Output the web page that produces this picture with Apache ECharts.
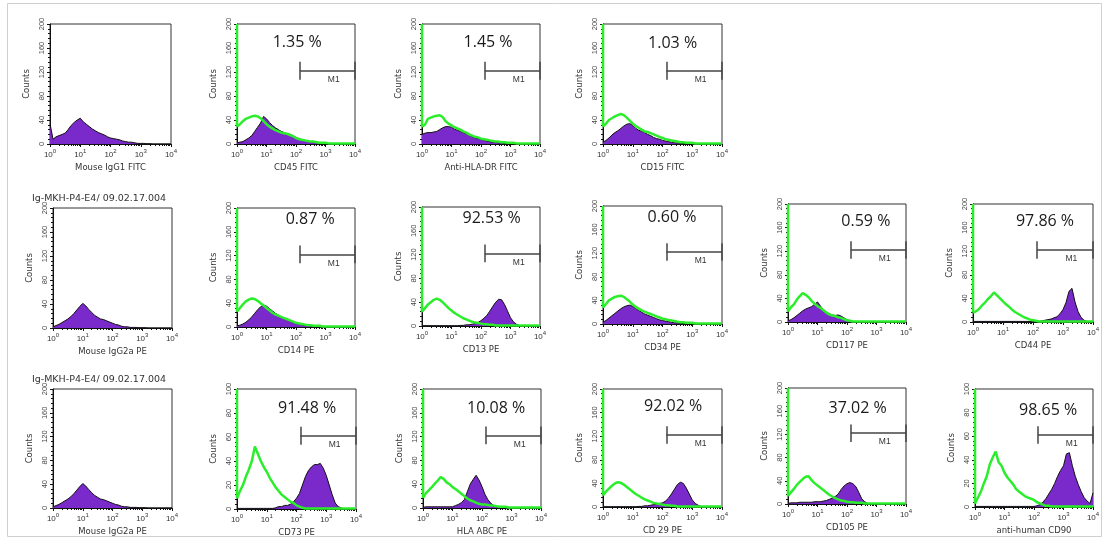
<!DOCTYPE html>
<html><head><meta charset="utf-8">
<script src="https://cdn.jsdelivr.net/npm/echarts@6/dist/echarts.min.js"></script>
<style>html,body{margin:0;padding:0;background:#fff}#c{width:1105px;height:544px}</style>
</head><body><div id="c"></div><script>
// fluorescence channel bin centres (log scale, 10 bins per decade)
const bins = [1, 1.259, 1.585, 1.995, 2.512, 3.162, 3.981, 5.012, 6.31, 7.943,
  10, 12.59, 15.85, 19.95, 25.12, 31.62, 39.81, 50.12, 63.1, 79.43,
  100, 125.9, 158.5, 199.5, 251.2, 316.2, 398.1, 501.2, 631, 794.3,
  1000, 1259, 1585, 1995, 2512, 3162, 3981, 5012, 6310, 7943, 10000];

const axisNames = ['Mouse IgG1 FITC','CD45 FITC','Anti-HLA-DR FITC','CD15 FITC',
  'Mouse IgG2a PE','CD14 PE','CD13 PE','CD34 PE','CD117 PE','CD44 PE',
  'Mouse IgG2a PE','CD73 PE','HLA ABC PE','CD 29 PE','CD105 PE','anti-human CD90'];
const percents = ['', '1.35 %', '1.45 %', '1.03 %', '', '0.87 %', '92.53 %', '0.60 %', '0.59 %', '97.86 %',
  '', '91.48 %', '10.08 %', '92.02 %', '37.02 %', '98.65 %'];
const yMax = [200,200,200,200,200,200,200,200,200,200,200,100,200,200,200,100];
const gateLow = [null,135,135,135,null,135,135,135,135,135,null,135,135,135,135,135];
const gateCount = [null,122,122,122,null,122,122,122,122,122,null,61,122,122,122,61];
const firstBinOffScale = 600; // channel 0 pile-up of the green control, off scale
const header = 'Ig-MKH-P4-E4/ 09.02.17.004';

// purple = stained sample, green = isotype overlay
const isoIgG1 = [34,8,12,14,16,18,24,31,36,40, 43,37,33,29,25,22,19,17,15,12, 10,9,8,7,5,4,3,3,2,1, 1,1,0.5,0.5,0,0,0,0,0,0, 0];
const isoIgG2a = [2,4,6,9,12,15,19,24,30,36, 41,37,31,26,21,18,15,14,12,10, 8,6,5,3,2,2,1,1,1,0.5, 0.5,0.5,0,0,0,0,0,0,0,0, 0];
const cd45P = [2,3,4,7,10,14,21,28,35,46, 42,36,31,27,24,21,19,17,16,14, 11,9,7,6,5,4,3,2,2,1, 1,1,0.5,0.5,0,0,0,0,0,0, 0];
const cd45G = [29,33,38,42,44,46,47,46,43,38, 33,29,26,23,21,19,18,17,15,13, 10,8,7,6,5,4,4,3,2,2, 2,1,1,1,1,1,1,1,1,1, 1];
const hladrP = [16,18,19,19,20,21,24,27,29,29, 28,25,23,21,19,17,15,12,10,9, 8,6,5,4,3,3,2,2,1,1, 1,0.5,0.5,0.5,0,0,0,0,0,0, 0];
const hladrG = [29,32,42,44,46,47,48,45,38,34, 31,28,26,24,21,19,16,14,12,11, 9,8,7,6,5,4,4,3,3,2, 2,2,1,1,1,1,1,1,1,1, 1];
const cd15P = [3,6,10,15,19,22,26,30,33,34, 31,26,23,21,19,16,14,11,9,8, 6,5,4,3,2,2,1,1,0.5,0.5, 0.5,0,0,0,0,0,0,0,0,0, 0];
const cd15G = [29,34,40,43,46,48,50,48,44,39, 34,30,27,24,21,20,18,16,14,12, 10,8,7,6,5,4,3,3,2,2, 2,1,1,1,1,1,1,1,1,1, 1];
const cd14P = [2,3,5,8,12,17,23,29,34,37, 35,31,27,23,20,17,14,12,10,8, 6,5,4,3,2,2,1,1,0.5,0.5, 0,0,0,0,0,0,0,0,0,0, 0];
const cd14G = [26,32,38,43,46,48,47,44,40,36, 32,28,24,21,19,17,15,13,11,9, 7,6,5,4,3,3,2,2,2,1, 1,1,1,1,1,1,1,1,1,1, 1];
const cd13P = [0.5,0.5,0.5,0.5,0.5,0.5,0.5,0.5,0.5,0.5, 0.5,0.5,0.5,1,1,2,2,3,4,6, 9,13,18,25,33,40,45,44,36,25, 14,7,3,1,0.5,0,0,0,0,0, 0];
const cd13G = [24,30,36,40,44,46,44,40,35,30, 26,22,19,16,13,11,9,7,6,5, 4,3,3,2,2,1,1,1,1,1, 1,1,1,1,1,1,1,1,1,1, 1];
const cd34P = [3,6,10,14,18,22,26,29,31,32, 30,26,23,20,17,15,13,11,9,7, 6,5,4,3,2,2,1,1,0.5,0.5, 0,0,0,0,0,0,0,0,0,0, 0];
const cd34G = [28,34,40,43,46,47,48,46,42,38, 33,29,26,23,21,19,17,15,13,11, 9,8,7,6,5,4,3,3,2,2, 2,1,1,1,1,1,1,1,1,1, 1];
const cd117P = [2,4,7,11,15,19,22,24,26,30, 34,27,21,17,14,12,11,12,10,7, 4,2,1,0.5,0.5,0,0,0,0,0, 0,0,0,0,0,0,0,0,0,0, 0];
const cd117G = [18,25,30,38,44,49,46,42,36,31, 27,24,20,16,13,11,10,8,7,5, 3,2,1,1,1,1,1,1,1,1, 1,1,1,1,1,1,1,1,1,1, 1];
const cd44P = [1,1,1,1,1,1,1,1,1,1, 1,1,1,1,1,1,1,1,1,1, 1,1,1,2,3,4,5,7,9,14, 21,33,52,57,34,18,8,3,1,1, 0];
const cd44G = [16,18,22,28,33,39,44,50,45,40, 35,30,26,21,17,14,11,8,6,4, 3,2,1,1,1,1,1,1,1,1, 1,1,1,1,1,1,1,1,1,1, 1];
const cd73P = [0.5,0.5,0.5,0.5,0.5,0.5,0.5,0.5,0.5,0.5, 0.5,0.5,0.5,1,2,2,3,3,4,6, 9,13,20,27,32,35,37,37,38,34, 28,20,12,5,2,1,0,0,0,0, 0];
const cd73G = [9,15,20,27,33,40,52,46,40,35, 31,26,22,18,15,12,10,8,6,5, 3,2,1,0.5,0.5,0.5,0.5,0.5,0.5,0.5, 0.5,0.5,0.5,0.5,0.5,0.5,0.5,0.5,0.5,0.5, 0.5];
const hlaabcP = [1,2,2,2,2,2,2,2,2,2, 2,4,6,9,14,27,40,48,55,47, 36,23,14,8,4,2,1,0.5,0,0, 0,0,0,0,0,0,0,0,0,0, 0];
const hlaabcG = [17,25,30,35,41,46,52,49,43,40, 35,32,28,24,20,16,13,11,9,7, 6,6,5,4,4,3,2,2,2,1, 1,1,1,1,1,1,1,1,1,1, 1];
const cd29P = [0.5,0.5,0.5,0.5,0.5,0.5,0.5,0.5,0.5,0.5, 0.5,0.5,1,1,2,2,3,4,5,6, 7,10,15,22,30,38,42,40,32,22, 12,6,3,1,0,0,0,0,0,0, 0];
const cd29G = [20,26,31,36,40,42,41,38,34,30, 26,22,19,16,13,11,9,7,6,5, 4,3,3,2,2,1,1,1,1,1, 1,1,1,1,1,1,1,1,1,1, 1];
const cd105P = [1,2,2,2,3,3,3,3,3,4, 4,4,5,6,8,10,13,17,25,31, 35,37,35,30,20,9,4,1,0.5,0, 0,0,0,0,0,0,0,0,0,0, 0];
const cd105G = [14,20,26,33,38,43,47,48,41,36, 32,28,24,20,16,13,10,8,6,5, 4,3,3,2,2,2,1,1,1,1, 1,1,1,1,1,1,1,1,1,1, 1];
const cd90P = [0.5,0.5,0.5,0.5,0.5,0.5,0.5,0.5,0.5,0.5, 0.5,0.5,0.5,0.5,0.5,0.5,0.5,0.5,0.5,0.5, 0.5,1,2,4,7,11,15,20,26,31, 35,45,46,35,26,19,13,8,5,3, 12];
const cd90G = [3,8,13,20,26,36,42,47,38,35, 29,25,22,19,15,13,11,9,8,7, 6,4,3,2,1,1,0.5,0.5,0.5,0.5, 0.5,0.5,0.5,0.5,0.5,0.5,0.5,0.5,0.5,0.5, 0.5];

const purple = [isoIgG1, cd45P, hladrP, cd15P, isoIgG2a, cd14P, cd13P, cd34P, cd117P, cd44P,
  isoIgG2a, cd73P, hlaabcP, cd29P, cd105P, cd90P];
const green = [null, cd45G, hladrG, cd15G, null, cd14G, cd13G, cd34G, cd117G, cd44G,
  null, cd73G, hlaabcG, cd29G, cd105G, cd90G];

// ---- layout (pixel boxes of each panel, label positions as fractions of the box) ----
const geo = [
  [50,24,121,120],[237,24,118,120],[422,24,118,120],[603,24,119,120],
  [53,208,119,120],[237,208,118,119],[422,207,118,119],[603,206,119,118],[788,204,118,118],[973,204,120,118],
  [53,389,119,119],[237,389,119,120],[423,389,118,119],[603,389,119,118],[788,388,118,116],[975,389,118,118]];
const pctPos = [null,[0.51,0.156],[0.56,0.15],[0.585,0.158],null,[0.62,0.1],[0.59,0.1],[0.58,0.1],[0.66,0.15],[0.6,0.145],
  null,[0.59,0.16],[0.62,0.16],[0.59,0.15],[0.59,0.18],[0.62,0.18]];
const m1Pos = [0.82, 0.465];

const PURPLE = '#7a2acb', GREEN = '#2bee2b';
const option = {animation:false, backgroundColor:'#fff', grid:[], xAxis:[], yAxis:[], series:[], graphic:[]};

axisNames.forEach((nm, i) => {
  const [l,t,w,h] = geo[i];
  const ym = yMax[i];
  option.grid.push({left:l, top:t, width:w, height:h, show:true, borderColor:'#333', borderWidth:1, backgroundColor:'#fff'});
  option.xAxis.push({
    type:'log', logBase:10, gridIndex:i, min:1, max:10000,
    name:nm, nameLocation:'middle', nameGap:19,
    nameTextStyle:{fontFamily:'DejaVu Sans', fontSize:8.5, color:'#333'},
    axisLine:{show:true, onZero:false, lineStyle:{color:'#111', width:1}},
    axisTick:{show:true, length:3, lineStyle:{color:'#111'}},
    minorTick:{show:true, splitNumber:9, length:2, lineStyle:{color:'#111'}},
    splitLine:{show:false},
    axisLabel:{margin:4, formatter: v => '{b|10}{s|' + Math.round(Math.log10(v)) + '}',
      rich:{b:{fontFamily:'Liberation Sans', fontSize:8, color:'#333', lineHeight:11, verticalAlign:'bottom'},
            s:{fontFamily:'Liberation Sans', fontSize:6, color:'#333', verticalAlign:'top'}}}
  });
  option.yAxis.push({
    type:'value', gridIndex:i, min:0, max:ym, interval:ym/5,
    name:'Counts', nameLocation:'middle', nameGap:19,
    nameTextStyle:{fontFamily:'DejaVu Sans', fontSize:8.5, color:'#333'},
    axisLine:{show:true, lineStyle:{color:'#111', width:1}},
    axisTick:{show:true, length:3, lineStyle:{color:'#111'}},
    minorTick:{show:true, splitNumber:5, length:2, lineStyle:{color:'#111'}},
    splitLine:{show:false},
    axisLabel:{rotate:90, margin:4, fontFamily:'Liberation Sans', fontSize:7.5, color:'#444'}
  });
  const pser = {
    type:'line', xAxisIndex:i, yAxisIndex:i, symbol:'none', smooth:false, clip:true, z:2,
    data: bins.map((b,k) => [b, purple[i][k]]),
    lineStyle:{color:'#111', width:1}, areaStyle:{color:PURPLE, opacity:1}
  };
  if (percents[i]) {
    const [fx, fy] = pctPos[i];
    const marks = [
      {coord:[Math.pow(10, 4*fx), ym*(1-fy)], label:{formatter:percents[i], fontFamily:'Open Sans', fontSize:16, color:'#1a1a1a'}},
      {coord:[Math.pow(10, 4*m1Pos[0]), ym*(1-m1Pos[1])], label:{formatter:'M1', fontFamily:'Liberation Sans', fontSize:8.5, color:'#333'}}
    ];
    const g = gateLow[i], gy = gateCount[i], cap = ym*0.075;
    pser.markLine = {symbol:'none', silent:true, label:{show:false}, animation:false,
      lineStyle:{color:'#444', width:1.5, type:'solid'},
      data:[
        [{coord:[g, gy]},{coord:[10000, gy]}],
        [{coord:[g, gy-cap]},{coord:[g, gy+cap]}],
        [{coord:[10000, gy-cap]},{coord:[10000, gy+cap]}]
      ]};
    pser.markPoint = {symbol:'rect', symbolSize:0, silent:true, label:{show:true, position:'inside'}, data:marks};
  }
  option.series.push(pser);
  if (green[i]) {
    // the off-scale first channel: a spike from the first on-scale count up to the top of the scale
    option.series.push({type:'line', xAxisIndex:i, yAxisIndex:i, symbol:'none', clip:false, zlevel:1, z:5,
      data:[[bins[0], green[i][0]], [bins[0], Math.min(firstBinOffScale, ym)]], lineStyle:{color:GREEN, width:2.5}});
    option.series.push({type:'line', xAxisIndex:i, yAxisIndex:i, symbol:'none', clip:true, zlevel:1, z:4,
      data:bins.map((b,k) => [b, green[i][k]]), lineStyle:{color:GREEN, width:2.5}});
  }
});

option.graphic = [
  {type:'rect', silent:true, z:-10, shape:{x:7.5, y:3.5, width:1094, height:533}, style:{fill:'none', stroke:'#cfcfcf', lineWidth:1}},
  {type:'text', silent:true, x:99, y:199, style:{text:header, align:'center', verticalAlign:'middle', fontFamily:'DejaVu Sans', fontSize:9.5, fill:'#333'}},
  {type:'text', silent:true, x:99, y:380, style:{text:header, align:'center', verticalAlign:'middle', fontFamily:'DejaVu Sans', fontSize:9.5, fill:'#333'}}
];

const chart = echarts.init(document.getElementById('c'), null, {renderer:'canvas'});
chart.setOption(option);
</script></body></html>
